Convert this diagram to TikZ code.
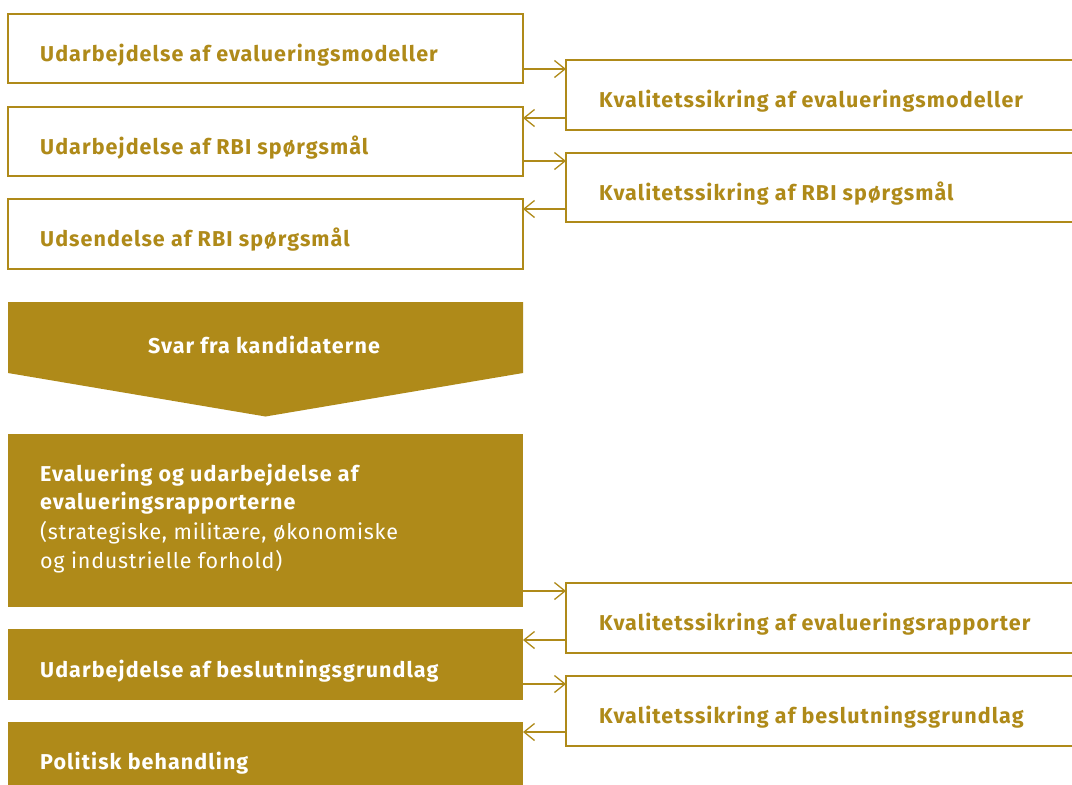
\documentclass[tikz,border=0pt]{standalone}
\usepackage{fontspec}
\setmainfont{Fira Sans}
\newfontfamily\diafont[LetterSpace=5]{Fira Sans}
\newfontfamily\dialight[LetterSpace=3.5]{Fira Sans}
\usetikzlibrary{arrows.meta}
\definecolor{gold}{HTML}{AF8A19}
\tikzset{
  outbox/.style={draw=gold,line width=1.5pt,fill=white,inner sep=0pt,outer sep=0pt,anchor=north west,minimum height=70pt},
  leftbox/.style={outbox,minimum width=515pt},
  rightbox/.style={outbox,minimum width=520pt},
  fillbox/.style={fill=gold,draw=none,inner sep=0pt,outer sep=0pt,anchor=north west,minimum width=515pt},
  goldtxt/.style={text=gold,font=\diafont\bfseries\fontsize{21.5}{26}\selectfont,inner sep=0pt,anchor=base west},
  whitetxt/.style={text=white,font=\diafont\bfseries\fontsize{21.5}{26}\selectfont,inner sep=0pt,anchor=base west},
  lighttxt/.style={text=white,font=\dialight\fontsize{21.5}{26}\selectfont,inner sep=0pt,anchor=base west},
  arr/.style={draw=gold,line width=1.3pt,-{Straight Barb[length=10.5pt,width=17pt,line width=1.3pt]}}
}
\begin{document}
\begin{tikzpicture}[x=1pt,y=-1pt]
\useasboundingbox (0,0) rectangle (1072,785);
\clip (0,0) rectangle (1072,785);
\fill[white] (0,0) rectangle (1072,785);

% left outlined boxes
\node[leftbox,minimum height=69pt] (b1) at (8,14) {};
\node[leftbox,minimum height=69pt] (b2) at (8,107) {};
\node[leftbox,minimum height=70pt] (b3) at (8,199) {};
\node[goldtxt] (t1) at (40,61) {Udarbejdelse af evalueringsmodeller};
\node[goldtxt] (t2) at (40,154) {Udarbejdelse af RBI spørgsmål};
\node[goldtxt] (t3) at (40,246) {Udsendelse af RBI spørgsmål};

% right outlined boxes
\node[rightbox] (r1) at (566,60) {};
\node[rightbox,minimum height=69pt] (r2) at (566,153) {};
\node[rightbox] (r3) at (566,583) {};
\node[rightbox] (r4) at (566,676) {};
\node[goldtxt] (rt1) at (599,107) {Kvalitetssikring af evalueringsmodeller};
\node[goldtxt] (rt2) at (599,200) {Kvalitetssikring af RBI spørgsmål};
\node[goldtxt] (rt3) at (599,630) {Kvalitetssikring af evalueringsrapporter};
\node[goldtxt] (rt4) at (599,723) {Kvalitetssikring af beslutningsgrundlag};

% chevron
\fill[gold] (8,302) -- (523,302) -- (523,373) -- (265.5,416.5) -- (8,373) -- cycle;
\node[whitetxt,anchor=base] (sv) at (264,353) {Svar fra kandidaterne};

% filled boxes
\node[fillbox,minimum height=173pt] (ev) at (8,434) {};
\node[whitetxt] (e1) at (40,481) {Evaluering og udarbejdelse af};
\node[whitetxt] (e2) at (40,509.5) {evalueringsrapporterne};
\node[lighttxt] (e3) at (40,539.5) {(strategiske, militære, økonomiske};
\node[lighttxt] (e4) at (40,568) {og industrielle forhold)};
\node[fillbox,minimum height=70.5pt] (bg) at (8,629) {};
\node[whitetxt] (bgt) at (40,677) {Udarbejdelse af beslutningsgrundlag};
\node[fillbox,minimum height=70pt] (pb) at (8,722) {};
\node[whitetxt] (pbt) at (40,769) {Politisk behandling};

% connectors
\draw[arr] (b1.east |- 0,69) -- (r1.west |- 0,69);
\draw[arr] (r1.west |- 0,118) -- (b2.east |- 0,118);
\draw[arr] (b2.east |- 0,161) -- (r2.west |- 0,161);
\draw[arr] (r2.west |- 0,209) -- (b3.east |- 0,209);
\draw[arr] (ev.east |- 0,591) -- (r3.west |- 0,591);
\draw[arr] (r3.west |- 0,640) -- (bg.east |- 0,640);
\draw[arr] (bg.east |- 0,684) -- (r4.west |- 0,684);
\draw[arr] (r4.west |- 0,732) -- (pb.east |- 0,732);
\end{tikzpicture}
\end{document}
